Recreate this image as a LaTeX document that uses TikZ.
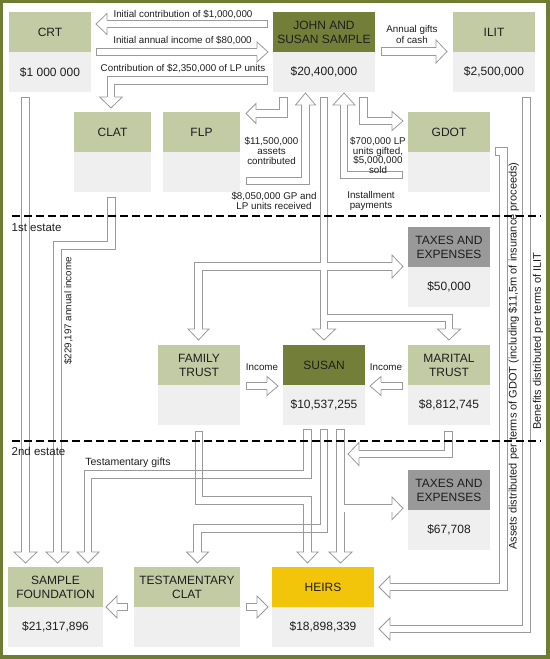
\documentclass[tikz,border=0pt]{standalone}
\usepackage{fontspec}
\setmainfont{Liberation Sans}
\definecolor{framec}{HTML}{6E7D32}
\definecolor{hdr}{HTML}{C3CBA5}
\definecolor{dark}{HTML}{737F39}
\definecolor{bodyc}{HTML}{EFEFEF}
\definecolor{taxc}{HTML}{999999}
\definecolor{heirc}{HTML}{F2C40A}
\definecolor{agray}{HTML}{9A9A9A}
\definecolor{txt}{HTML}{1E1E1E}
\tikzset{
  hbox/.style={minimum height=40bp, inner sep=0pt, outer sep=0pt, align=center, text=txt, font=\fontsize{12bp}{14bp}\selectfont},
  bbox/.style={fill=bodyc, minimum height=40bp, inner sep=0pt, outer sep=0pt, text=txt, font=\fontsize{12bp}{14bp}\selectfont},
  sg/.style={draw=agray, line width=8.2bp, line join=miter},
  sw/.style={draw=white, line width=6.6bp, line join=miter},
  tail/.style={shorten <=0.8bp},
  hst/.style={draw=agray, fill=white, line width=0.8bp, line join=miter},
  edge/.style={draw=agray, line width=0.8bp},
  lab/.style={font=\fontsize{9.8bp}{9.6bp}\selectfont, text=txt, inner sep=0pt, align=center},
  rlab/.style={font=\fontsize{11bp}{11bp}\selectfont, text=txt, inner sep=0pt, rotate=90},
  est/.style={font=\fontsize{11.5bp}{12bp}\selectfont, text=txt, inner sep=0pt},
  sep/.style={draw=black, line width=2bp, dash pattern=on 8bp off 4bp},
}
\newcommand{\ent}[7]{%
  \node[hbox, fill=#5, minimum width=#4bp, anchor=north west] (#1) at (#2,#3) {#6};
  \node[bbox, minimum width=#4bp, anchor=north] (#1v) at (#1.south) {#7};}
\newcommand{\headD}[4]{\filldraw[hst] ({#1-3.7},#2) -- ({#1-#3},#2) -- (#1,{#2+#4}) -- ({#1+#3},#2) -- ({#1+3.7},#2);}
\newcommand{\headU}[4]{\filldraw[hst] ({#1-3.7},#2) -- ({#1-#3},#2) -- (#1,{#2-#4}) -- ({#1+#3},#2) -- ({#1+3.7},#2);}
\newcommand{\headR}[4]{\filldraw[hst] (#1,{#2-3.7}) -- (#1,{#2-#3}) -- ({#1+#4},#2) -- (#1,{#2+#3}) -- (#1,{#2+3.7});}
\newcommand{\headL}[4]{\filldraw[hst] (#1,{#2-3.7}) -- (#1,{#2-#3}) -- ({#1-#4},#2) -- (#1,{#2+#3}) -- (#1,{#2+3.7});}
\newcommand{\barrow}[2]{\draw[sg] #1;\draw[sw,tail] #1;#2}
\begin{document}
\begin{tikzpicture}[x=1bp,y=-1bp]
\fill[framec] (0,0) rectangle (550,659);
\fill[white] (3,3) rectangle (546,655);
\useasboundingbox (0,0) rectangle (550,659);

% entities
\ent{crt}{9}{12}{82}{hdr}{CRT}{\$1 000 000}
\ent{js}{273}{12}{102}{dark}{JOHN AND\\SUSAN SAMPLE}{\$20,400,000}
\ent{ilit}{453}{12}{82}{hdr}{ILIT}{\$2,500,000}
\ent{clat}{74}{112}{77}{hdr}{CLAT}{}
\ent{flp}{163}{112}{77}{hdr}{FLP}{}
\ent{gdot}{408}{112}{82}{hdr}{GDOT}{}
\ent{taxa}{408}{227}{82}{taxc}{TAXES AND\\EXPENSES}{\$50,000}
\ent{ft}{158}{345}{82}{hdr}{FAMILY\\TRUST}{}
\ent{susan}{283}{345}{82}{dark}{SUSAN}{\$10,537,255}
\ent{mt}{408}{345}{82}{hdr}{MARITAL\\TRUST}{\$8,812,745}
\ent{taxb}{408}{470}{82}{taxc}{TAXES AND\\EXPENSES}{\$67,708}
\ent{sf}{8}{567}{95}{hdr}{SAMPLE\\FOUNDATION}{\$21,317,896}
\ent{tclat}{134}{567}{106}{hdr}{TESTAMENTARY\\CLAT}{}
\ent{heirs}{272}{567}{102}{heirc}{HEIRS}{\$18,898,339}

% block arrows
\barrow{(268,24) -- (107,24)}{\headL{107}{24}{10.5}{11}}
\barrow{(96,52) -- (257,52)}{\headR{257}{52}{10}{11}}
\barrow{(268,80.5) -- (111,80.5) -- (111,97)}{\headD{111}{97}{11.3}{11}}
\barrow{(381,51.5) -- (436,51.5)}{\headR{436}{51.5}{11.5}{11}}
\barrow{(25.5,97) -- (25.5,552)}{\headD{25.5}{552}{11.5}{11}}
\barrow{(526.5,97) -- (526.5,629) -- (390,629)}{\headL{390}{629}{11}{11}}
\barrow{(495,151.5) -- (503.5,151.5) -- (503.5,587) -- (390,587)}{\headL{390}{587}{11}{11}}
\barrow{(283.5,97) -- (283.5,113.5) -- (256,113.5)}{\headL{256}{113.5}{10}{10}}
\barrow{(246,181) -- (305.5,181) -- (305.5,105)}{\headU{305.5}{105}{10}{12}}
\barrow{(363.5,97) -- (363.5,121) -- (392,121)}{\headR{392}{121}{9.5}{11}}
\barrow{(403,175) -- (344,175) -- (344,105)}{\headU{344}{105}{11}{12}}
\barrow{(111.5,197) -- (111.5,245.5) -- (57.5,245.5) -- (57.5,552)}{\headD{57.5}{552}{11.5}{11}}
\barrow{(246,386) -- (267,386)}{\headR{267}{386}{9.5}{11}}
\barrow{(403,386) -- (381,386)}{\headL{381}{386}{9.5}{11}}
\barrow{(199,431) -- (199,500.5) -- (307.5,500.5) -- (307.5,552)}{\headD{307.5}{552}{10.5}{11}}
\barrow{(307.5,429) -- (307.5,474.5) -- (88,474.5) -- (88,552)}{\headD{88}{552}{11}{11}}
\barrow{(324,429) -- (324,528.5) -- (197.5,528.5) -- (197.5,552)}{\headD{197.5}{552}{11}{11}}
\barrow{(448.5,431) -- (448.5,454) -- (359,454)}{\headL{359}{454}{11.5}{11}}
\barrow{(128,607) -- (117,607)}{\headL{117}{607}{11}{11}}
\barrow{(246,607) -- (257,607)}{\headR{257}{607}{11}{11}}
% crossing outlines left visible
\draw[edge] (195.3,470.4) -- (195.3,478.6) (202.7,470.4) -- (202.7,478.6);
\draw[edge] (303.8,524.4) -- (303.8,532.6) (311.2,524.4) -- (311.2,532.6);
% Susan to heirs and taxes (branched)
\draw[sg] (340.5,429) -- (340.5,552);
\draw[sg] (340.5,508.3) -- (392,508.3);
\draw[sw,tail] (340.5,429) -- (340.5,552);
\draw[sw] (340.5,508.3) -- (392,508.3);
\headD{340.5}{552}{11.5}{11}
\headR{392}{508.3}{11.3}{11}
% John and Susan into the first estate (branched)
\draw[sg] (324,97) -- (324,329);
\draw[sg] (324,266.5) -- (198.5,266.5) -- (198.5,329);
\draw[sg] (324,266.5) -- (392,266.5);
\draw[sg] (324,318) -- (449,318) -- (449,329);
\draw[sw,tail] (324,97) -- (324,329);
\draw[sw] (324,266.5) -- (198.5,266.5) -- (198.5,329);
\draw[sw] (324,266.5) -- (392,266.5);
\draw[sw] (324,318) -- (449,318) -- (449,329);
\headD{324}{329}{11.5}{11}
\headD{198.5}{329}{10.5}{11}
\headR{392}{266.5}{11.5}{11}
\headD{449}{329}{11.5}{11}

% labels
\node[lab] (l1) at (183,14.5) {Initial contribution of \$1,000,000};
\node[lab] (l2) at (182.5,40.5) {Initial annual income of \$80,000};
\node[lab] (l3) at (183,69) {Contribution of \$2,350,000 of LP units};
\node[lab, font=\fontsize{9.8bp}{11bp}\selectfont] (l4) at (412,34) {Annual gifts\\of cash};
\node[lab] (l5) at (271.5,151) {\$11,500,000\\assets\\contributed};
\node[lab] (l6) at (274,201) {\$8,050,000 GP and\\LP units received};
\node[lab] (l7) at (378,155.5) {\$700,000 LP\\units gifted,\\\$5,000,000\\sold};
\node[lab] (l8) at (371,201) {Installment\\payments};
\node[lab, rotate=90] (l9) at (68.3,311) {\$229,197 annual income};
\node[rlab] (l10) at (513.8,356) {Assets distributed per terms of GDOT (including \$11,5m of insurance proceeds)};
\node[rlab] (l11) at (538,341) {Benefits distributed per terms of ILIT};
\node[lab] (l12) at (262,367) {Income};
\node[lab] (l13) at (386,367) {Income};
\node[lab, font=\fontsize{10.5bp}{11bp}\selectfont] (l14) at (128,463) {Testamentary gifts};
\node[est, anchor=west] (e1) at (11.5,228) {1st estate};
\node[est, anchor=west] (e2) at (11.5,451) {2nd estate};

% estate separators
\draw[sep] (12,216) -- (541,216);
\draw[sep] (12,441) -- (541,441);
\end{tikzpicture}
\end{document}
